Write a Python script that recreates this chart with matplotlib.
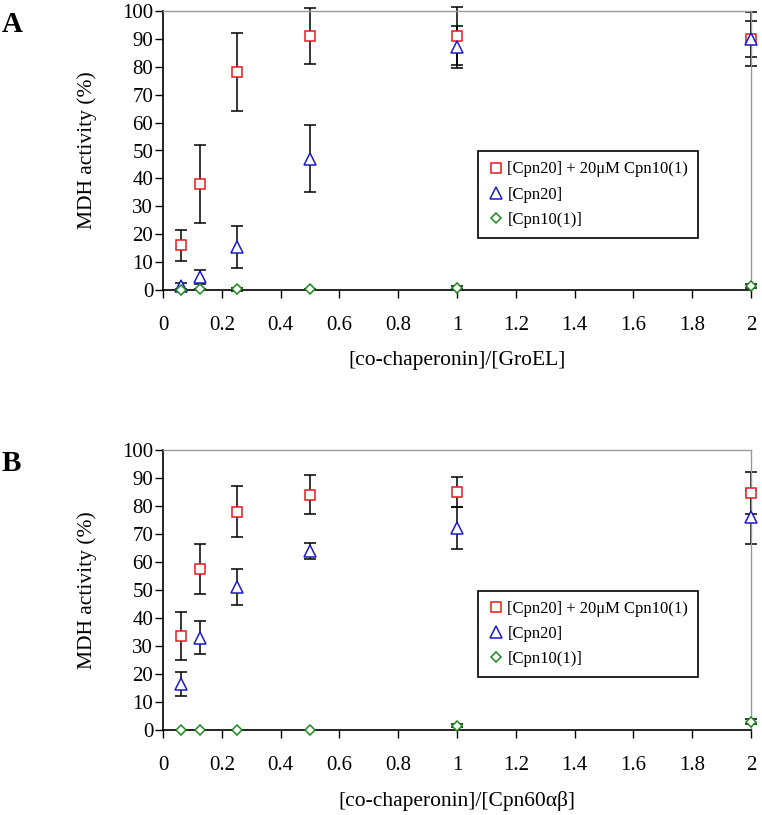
import matplotlib
matplotlib.use("Agg")
import matplotlib.pyplot as plt
import numpy as np

plt.rcParams["font.family"] = ["Liberation Serif", "DejaVu Serif"]
plt.rcParams["mathtext.fontset"] = "stix"

# Ratios of co-chaperonin to chaperonin
ratio = [0.0625, 0.125, 0.25, 0.5, 1, 2]

labels = ["[Cpn20] + 20\u03bcM Cpn10(1)", "[Cpn20]", "[Cpn10(1)]"]

# Panel A: GroEL
a_mix = [16, 38, 78, 91, 91, 90]
a_mix_err = [5.5, 14, 14, 10, 10.5, 9.6]
a_cpn20 = [1.5, 4.5, 15.5, 47, 87, 90]
a_cpn20_err = [1, 2.5, 7.5, 12, 7.5, 6.5]
a_cpn10 = [0, 0.3, 0.3, 0.3, 0.8, 1.5]
a_cpn10_err = [0, 0, 0.5, 0, 0.5, 0.8]

# Panel B: Cpn60ab
b_mix = [33.5, 57.5, 78, 84, 85, 84.5]
b_mix_err = [8.5, 9, 9, 7, 5.5, 7.5]
b_cpn20 = [16.5, 33, 51, 64, 72, 76]
b_cpn20_err = [4.2, 6, 6.5, 2.8, 7.5, 9.7]
b_cpn10 = [0, 0, 0, 0, 1.5, 3]
b_cpn10_err = [0, 0, 0, 0, 0.5, 1]

x_ticks = [0, 0.2, 0.4, 0.6, 0.8, 1, 1.2, 1.4, 1.6, 1.8, 2]
x_tick_labels = ["0", "0.2", "0.4", "0.6", "0.8", "1", "1.2", "1.4", "1.6", "1.8", "2"]
y_ticks = [0, 10, 20, 30, 40, 50, 60, 70, 80, 90, 100]


def draw_panel(ax, series, xlabel, letter):
    styles = [("s", "#e8191c"), ("^", "#1a1acc"), ("D", "#1d8a1d")]
    sizes = [7.5, 8.5, 5.5]
    handles = []
    for (vals, errs), (marker, color), ms in zip(series, styles, sizes):
        ax.errorbar(ratio, vals, yerr=errs, fmt="none", ecolor="black",
                    elinewidth=1.1, capsize=4.5, capthick=1.1, clip_on=False, zorder=2)
        h, = ax.plot(ratio, vals, linestyle="none", marker=marker, ms=ms,
                     mfc="white", mec=color, mew=1.1, clip_on=False, zorder=3)
        handles.append(h)

    ax.set_xlim(0, 2)
    ax.set_ylim(0, 100)
    ax.set_xticks(x_ticks)
    ax.set_xticklabels(x_tick_labels)
    ax.set_yticks(y_ticks)
    ax.tick_params(axis="both", direction="out", length=6, width=1, labelsize=15,
                   color="black")
    ax.tick_params(axis="x", pad=13)
    ax.tick_params(axis="y", pad=1)
    for side in ["top", "right"]:
        ax.spines[side].set_color("#999999")
        ax.spines[side].set_linewidth(1)
    for side in ["left", "bottom"]:
        ax.spines[side].set_color("black")
        ax.spines[side].set_linewidth(1.2)
    ax.set_ylabel("MDH activity (%)", fontsize=15.5, labelpad=18)
    ax.set_xlabel(xlabel, fontsize=15.5, labelpad=11)

    leg = ax.legend(handles, labels, loc="upper left", bbox_to_anchor=(0.536, 0.497),
                    borderaxespad=0, fancybox=False, edgecolor="black", framealpha=1,
                    fontsize=12, handlelength=0.9, handletextpad=0.25,
                    labelspacing=0.55, borderpad=0.6)
    leg.get_frame().set_linewidth(1.2)

    ax.text(-0.275, 1.0, letter, transform=ax.transAxes, fontsize=21,
            fontweight="bold", va="top", ha="left")


fig = plt.figure(figsize=(7.62, 8.15), dpi=100)
ax_a = fig.add_axes([163 / 762, 1 - 290 / 815, 588 / 762, 279 / 815])
ax_b = fig.add_axes([163 / 762, 1 - 730 / 815, 588 / 762, 280 / 815])

draw_panel(ax_a, [(a_mix, a_mix_err), (a_cpn20, a_cpn20_err), (a_cpn10, a_cpn10_err)],
           "[co-chaperonin]/[GroEL]", "A")
draw_panel(ax_b, [(b_mix, b_mix_err), (b_cpn20, b_cpn20_err), (b_cpn10, b_cpn10_err)],
           "[co-chaperonin]/[Cpn60\u03b1\u03b2]", "B")

fig.savefig("out.png", dpi=100)
